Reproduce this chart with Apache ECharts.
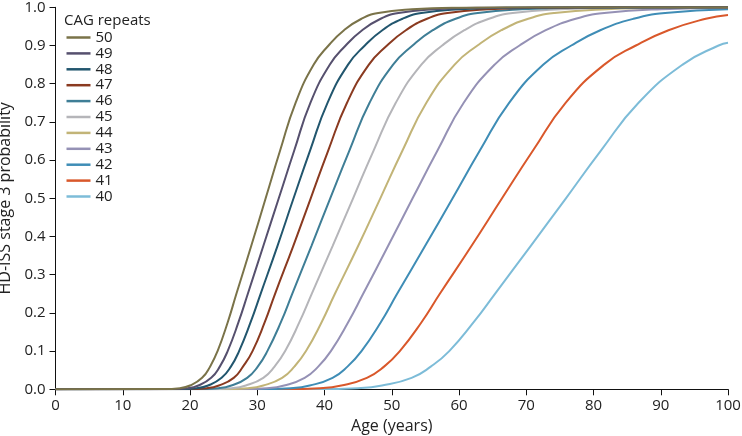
<!DOCTYPE html>
<html>
<head>
<meta charset="utf-8">
<script src="https://cdn.jsdelivr.net/npm/echarts@6/dist/echarts.min.js"></script>
<style>
  html, body { margin: 0; padding: 0; background: #fff; }
  #chart { width: 742px; height: 436px; }
</style>
</head>
<body>
<div id="chart"></div>
<script>
// CAG repeat lengths, legend order
const repeats = ['50', '49', '48', '47', '46', '45', '44', '43', '42', '41', '40'];
const colors = ['#7a7349', '#56506e', '#22566e', '#8a3a20', '#3f7e96', '#b5b5b9',
  '#c2b477', '#9591b5', '#3f8db6', '#d9582b', '#7dbcd8'];

// [age, probability]
const cag50 = [[0, 0], [16, 0.0005], [18.5, 0.003], [20, 0.01], [21.8, 0.03], [23, 0.06], [24.1, 0.1], [25.6, 0.175], [26.9, 0.25], [29.1, 0.375], [31.25, 0.5], [33.4, 0.625], [35.7, 0.75], [38.4, 0.85], [40.6, 0.9], [42.9, 0.94], [45.5, 0.97], [48, 0.985], [53, 0.995], [60, 0.999], [75, 1], [100, 1]];
const cag49 = [[0, 0], [17, 0.0005], [19.7, 0.003], [21.25, 0.01], [23.15, 0.03], [24.45, 0.06], [25.6, 0.1], [27.2, 0.175], [28.6, 0.25], [30.9, 0.375], [33.2, 0.5], [35.5, 0.625], [37.9, 0.75], [40.8, 0.85], [43.15, 0.9], [45.6, 0.94], [48.35, 0.97], [51, 0.985], [56.3, 0.995], [63.75, 0.999], [80, 1], [100, 1]];
const cag48 = [[0, 0], [18.1, 0.0005], [21, 0.003], [22.7, 0.01], [24.7, 0.03], [26.1, 0.06], [27.3, 0.1], [29, 0.175], [30.5, 0.25], [33, 0.375], [35.4, 0.5], [37.85, 0.625], [40.45, 0.75], [43.5, 0.85], [46, 0.9], [48.6, 0.94], [51.6, 0.97], [54.4, 0.985], [60.1, 0.995], [68, 0.999], [85, 1], [100, 1]];
const cag47 = [[0, 0], [19.4, 0.0005], [22.5, 0.003], [24.3, 0.01], [26.5, 0.03], [27.9, 0.06], [29.3, 0.1], [31.1, 0.175], [32.65, 0.25], [35.35, 0.375], [37.95, 0.5], [40.55, 0.625], [43.35, 0.75], [46.6, 0.85], [49.3, 0.9], [52.1, 0.94], [55.25, 0.97], [58.3, 0.985], [64.35, 0.995], [72.85, 0.999], [92, 1], [100, 1]];
const cag46 = [[0, 0], [20.9, 0.0005], [24.2, 0.003], [26.15, 0.01], [28.5, 0.03], [30.1, 0.06], [31.5, 0.1], [33.5, 0.175], [35.2, 0.25], [38.05, 0.375], [40.85, 0.5], [43.7, 0.625], [46.7, 0.75], [50.2, 0.85], [53.1, 0.9], [56.1, 0.94], [59.5, 0.97], [62.8, 0.985], [69.3, 0.995], [78.5, 0.999], [100, 1]];
const cag45 = [[0, 0], [22.7, 0.0005], [26.2, 0.003], [28.3, 0.01], [30.9, 0.03], [32.6, 0.06], [34.15, 0.1], [36.25, 0.175], [38.1, 0.25], [41.2, 0.375], [44.25, 0.5], [47.3, 0.625], [50.6, 0.75], [54.4, 0.85], [57.5, 0.9], [60.8, 0.94], [64.45, 0.97], [68, 0.985], [75.1, 0.995], [85, 0.999], [100, 1]];
const cag44 = [[0, 0], [24.7, 0.0005], [28.6, 0.003], [30.9, 0.01], [33.7, 0.03], [35.55, 0.06], [37.25, 0.1], [39.55, 0.175], [41.55, 0.25], [45, 0.375], [48.3, 0.5], [51.6, 0.625], [55.15, 0.75], [59.35, 0.85], [62.75, 0.9], [66.3, 0.94], [70.3, 0.97], [74.2, 0.985], [81.9, 0.995], [92.7, 0.999], [100, 0.9995]];
const cag43 = [[0, 0], [27.2, 0.0005], [31.45, 0.003], [34, 0.01], [37.05, 0.03], [39.1, 0.06], [40.95, 0.1], [43.5, 0.175], [45.75, 0.25], [49.45, 0.375], [53.1, 0.5], [56.8, 0.625], [60.7, 0.75], [65.3, 0.85], [69, 0.9], [72.9, 0.94], [77.35, 0.97], [81.6, 0.985], [90.1, 0.995], [100, 0.998]];
const cag42 = [[0, 0], [30.2, 0.0005], [34.95, 0.003], [37.8, 0.01], [41.2, 0.03], [43.45, 0.06], [45.5, 0.1], [48.35, 0.175], [50.8, 0.25], [54.95, 0.375], [59.05, 0.5], [63.1, 0.625], [67.45, 0.75], [72.55, 0.85], [76.7, 0.9], [81, 0.94], [85.95, 0.97], [90.65, 0.985], [100, 0.995]];
const cag41 = [[0, 0], [34, 0.0005], [39.3, 0.003], [42.5, 0.01], [46.3, 0.03], [48.9, 0.06], [51.2, 0.1], [54.4, 0.175], [57.15, 0.25], [61.85, 0.375], [66.4, 0.5], [71, 0.625], [75.85, 0.75], [81.6, 0.85], [86.3, 0.9], [91.15, 0.94], [96.7, 0.97], [100, 0.98]];
const cag40 = [[0, 0], [38.85, 0.0005], [44.95, 0.003], [48.55, 0.01], [52.95, 0.03], [55.85, 0.06], [58.55, 0.1], [62.15, 0.175], [65.35, 0.25], [70.65, 0.375], [75.9, 0.5], [81.1, 0.625], [86.7, 0.75], [93.25, 0.85], [98.6, 0.9], [100, 0.907]];
const curves = [cag50, cag49, cag48, cag47, cag46, cag45, cag44, cag43, cag42, cag41, cag40];

const xTicks = { min: 0, max: 100, interval: 10 };
const yTicks = { min: 0, max: 1, interval: 0.1 };

const font = '"Open Sans", "Noto Sans", sans-serif';
const ink = '#222';

const chart = echarts.init(document.getElementById('chart'));
chart.setOption({
  animation: false,
  color: colors,
  textStyle: { fontFamily: font, color: ink },
  title: {
    text: 'CAG repeats',
    left: 59,
    top: 8,
    textStyle: { fontFamily: font, fontSize: 15, fontWeight: 'normal', color: ink }
  },
  legend: {
    data: repeats,
    orient: 'vertical',
    left: 61.5,
    top: 25,
    icon: 'rect',
    itemWidth: 24,
    itemHeight: 2.5,
    itemGap: 0.9,
    textStyle: { fontFamily: font, fontSize: 15, color: ink }
  },
  grid: { left: 55.5, right: 14, top: 7.3, bottom: 46.7, outerBoundsMode: 'none' },
  xAxis: {
    type: 'value',
    min: xTicks.min,
    max: xTicks.max,
    interval: xTicks.interval,
    name: 'Age (years)',
    nameLocation: 'middle',
    nameGap: 28,
    nameTextStyle: { fontFamily: font, fontSize: 16, color: ink },
    axisLine: { lineStyle: { color: '#111', width: 1 } },
    axisTick: { show: true, length: 6, lineStyle: { color: '#111' } },
    axisLabel: { fontFamily: font, fontSize: 15, color: ink, margin: 9 },
    splitLine: { show: false }
  },
  yAxis: {
    type: 'value',
    min: yTicks.min,
    max: yTicks.max,
    interval: yTicks.interval,
    name: 'HD-ISS stage 3 probability',
    nameLocation: 'middle',
    nameGap: 31,
    nameTextStyle: { fontFamily: font, fontSize: 16, color: ink },
    axisLine: { show: true, lineStyle: { color: '#111', width: 1 } },
    axisTick: { show: true, length: 6, lineStyle: { color: '#111' } },
    axisLabel: { fontFamily: font, fontSize: 15, color: ink, margin: 10, formatter: v => v.toFixed(1) },
    splitLine: { show: false }
  },
  series: repeats.map((name, i) => ({
    name: name,
    type: 'line',
    data: curves[i],
    smooth: 0.5,
    symbol: 'none',
    lineStyle: { width: 2 },
    z: 20 - i
  }))
});
</script>
</body>
</html>
